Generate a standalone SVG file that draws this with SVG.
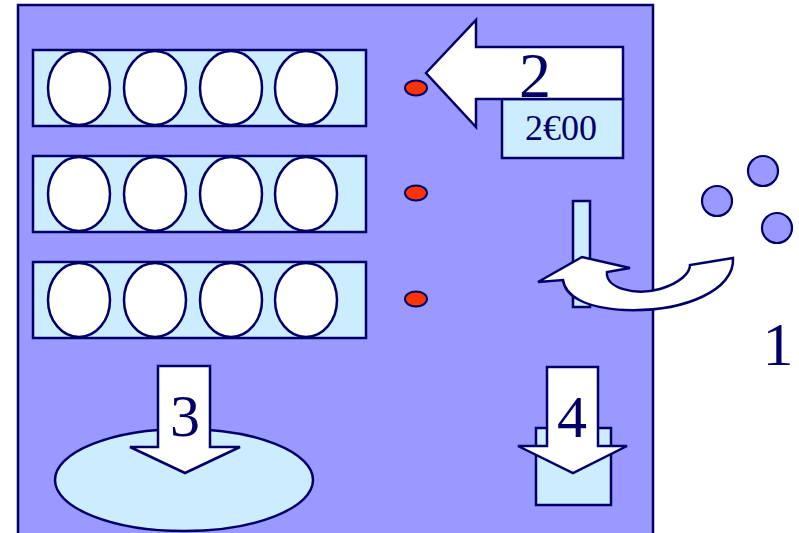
<svg xmlns="http://www.w3.org/2000/svg" width="799" height="533" viewBox="0 0 799 533">
  <style>
    .ln { stroke: #000066; stroke-width: 2.5; }
    .panel { fill: #9999ff; }
    .light { fill: #ccecff; }
    .white { fill: #ffffff; }
    .led { fill: #ff3300; stroke: #000066; stroke-width: 2; }
    .coin { fill: #9999ff; stroke: #000066; stroke-width: 2.2; }
    .num { font-family: "Liberation Serif", "Times New Roman", serif; fill: #000066; text-anchor: middle; }
  </style>
  <rect width="799" height="533" fill="#ffffff"/>

  <!-- machine body -->
  <g id="machine">
    <rect class="panel ln" x="18" y="5" width="635" height="540"/>
  </g>

  <!-- product rows -->
  <g id="row1">
    <rect class="light ln" x="33" y="50" width="333" height="76"/>
    <ellipse class="white ln" cx="79" cy="88" rx="31" ry="37"/>
    <ellipse class="white ln" cx="155" cy="88" rx="31" ry="37"/>
    <ellipse class="white ln" cx="231" cy="88" rx="31" ry="37"/>
    <ellipse class="white ln" cx="306" cy="88" rx="31" ry="37"/>
  </g>
  <g id="row2">
    <rect class="light ln" x="33" y="156" width="333" height="76"/>
    <ellipse class="white ln" cx="79" cy="194" rx="31" ry="37"/>
    <ellipse class="white ln" cx="155" cy="194" rx="31" ry="37"/>
    <ellipse class="white ln" cx="231" cy="194" rx="31" ry="37"/>
    <ellipse class="white ln" cx="306" cy="194" rx="31" ry="37"/>
  </g>
  <g id="row3">
    <rect class="light ln" x="33" y="262" width="333" height="76"/>
    <ellipse class="white ln" cx="79" cy="300" rx="31" ry="37"/>
    <ellipse class="white ln" cx="155" cy="300" rx="31" ry="37"/>
    <ellipse class="white ln" cx="231" cy="300" rx="31" ry="37"/>
    <ellipse class="white ln" cx="306" cy="300" rx="31" ry="37"/>
  </g>

  <!-- selection lights -->
  <g id="leds">
    <ellipse class="led" cx="416" cy="88" rx="11" ry="7.5"/>
    <ellipse class="led" cx="416" cy="193" rx="11" ry="7.5"/>
    <ellipse class="led" cx="416" cy="299" rx="11" ry="7.5"/>
  </g>

  <!-- price display -->
  <g id="price">
    <rect class="light ln" x="502" y="99" width="121" height="59"/>
    <text class="num" x="561" y="140" font-size="36">2€00</text>
  </g>

  <!-- coin slot -->
  <g id="slot">
    <rect class="light ln" x="573" y="201" width="17" height="106"/>
  </g>

  <!-- coins -->
  <g id="coins">
    <circle class="coin" cx="763" cy="171" r="15"/>
    <circle class="coin" cx="717" cy="201" r="15"/>
    <circle class="coin" cx="777" cy="228" r="15"/>
    <text class="num" x="778" y="365" font-size="62">1</text>
  </g>

  <!-- tray and change box -->
  <g id="tray">
    <ellipse class="light ln" cx="184" cy="480" rx="129" ry="51"/>
  </g>
  <g id="change">
    <rect class="light ln" x="536" y="428" width="75" height="77"/>
  </g>

  <!-- step arrows -->
  <g id="connectors">
    <path class="white ln" d="M426 73 L476 20 L476 47 L623 47 L623 99 L476 99 L476 127 Z"/>
    <path class="white ln" d="M538 282 L582 257 L630 268 L607 272 C605 288 635 296 660 289 C680 283 690 273 690 265 L733 258 C735 290 685 312 625 310 C585 308 565 296 563 280 Z"/>
    <path class="white ln" d="M158 366 L210 366 L210 447 L240 447 L185 473 L130 447 L158 447 Z"/>
    <path class="white ln" d="M547 367 L598 367 L598 446 L627 446 L573 473 L518 446 L547 446 Z"/>
  </g>

  <g id="labels">
    <text class="num" x="535" y="97" font-size="64">2</text>
    <text class="num" x="185" y="436" font-size="60">3</text>
    <text class="num" x="572" y="437" font-size="60">4</text>
  </g>
</svg>
